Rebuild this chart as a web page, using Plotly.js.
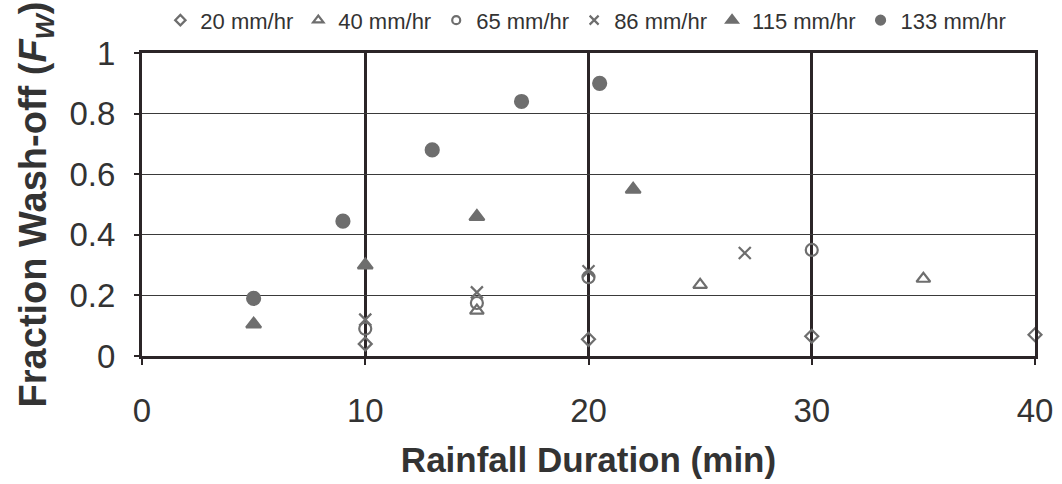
<!DOCTYPE html>
<html><head><meta charset="utf-8">
<script src="https://cdn.plot.ly/plotly-3.0.1.min.js"></script>
<style>html,body{margin:0;padding:0;background:#fff}#chart{width:1062px;height:484px}</style>
</head><body><div id="chart"></div>
<script>
// Series data (Rainfall duration in min, fraction wash-off)
const seriesNames = ["20 mm/hr", "40 mm/hr", "65 mm/hr", "86 mm/hr", "115 mm/hr", "133 mm/hr"];
const x20 = [10, 20, 30, 40];
const y20 = [0.04, 0.055, 0.065, 0.07];
const x40 = [15, 25, 35];
const y40 = [0.15, 0.235, 0.255];
const x65 = [10, 15, 20, 30];
const y65 = [0.09, 0.175, 0.26, 0.35];
const x86 = [10, 15, 20, 27];
const y86 = [0.12, 0.21, 0.28, 0.34];
const x115 = [5, 10, 15, 22];
const y115 = [0.105, 0.30, 0.46, 0.55];
const x133 = [5, 9, 13, 17, 20.5];
const y133 = [0.19, 0.445, 0.68, 0.84, 0.90];
const xTicks = [0, 10, 20, 30, 40];
const yTicks = [0, 0.2, 0.4, 0.6, 0.8, 1];

const gray = '#6e6e6e';
const dark = '#2b2527';
const xs = [x20, x40, x65, x86, x115, x133];
const ys = [y20, y40, y65, y86, y115, y133];
const symbols = ['diamond-open', 'triangle-up-open', 'circle-open', 'x-thin-open', 'triangle-up', 'circle'];
const sizes = [10, 12, 12, 12, 13, 13];
const legendSizes = [8, 9, 8, 9, 10, 9];

const traces = [];
for (let i = 0; i < seriesNames.length; i++) {
  traces.push({
    type: 'scatter', mode: 'markers', x: xs[i], y: ys[i], name: seriesNames[i],
    showlegend: false, cliponaxis: false,
    marker: { symbol: symbols[i], size: sizes[i], color: gray, line: { color: gray, width: 2.2 } }
  });
}
for (let i = 0; i < seriesNames.length; i++) {
  traces.push({
    type: 'scatter', mode: 'markers', x: [null], y: [null], name: seriesNames[i],
    showlegend: true,
    marker: { symbol: symbols[i], size: legendSizes[i], color: gray, line: { color: gray, width: 2.2 } }
  });
}

const layout = {
  width: 1062, height: 484,
  margin: { l: 142, r: 27, t: 53, b: 128 },
  paper_bgcolor: '#fff', plot_bgcolor: '#fff',
  font: { family: 'Liberation Sans, Arial, sans-serif', color: '#333' },
  showlegend: true,
  legend: {
    orientation: 'h', xref: 'container', yref: 'container',
    x: 0.151, y: 0.958, xanchor: 'left', yanchor: 'middle',
    font: { size: 22, color: '#333' },
    itemwidth: 30, bgcolor: 'rgba(0,0,0,0)', tracegroupgap: 0
  },
  xaxis: {
    range: [0, 40], tickvals: xTicks, ticktext: xTicks.map(String),
    showgrid: true, gridcolor: dark, gridwidth: 3, zeroline: false,
    showline: true, mirror: true, linecolor: dark, linewidth: 3,
    ticks: 'outside', ticklen: 6, tickwidth: 2, tickcolor: dark,
    tickfont: { size: 33, color: '#333' }, ticklabelstandoff: 17,
    title: { text: '<b>Rainfall Duration (min)</b>', font: { size: 35, color: '#333' }, standoff: 20 }
  },
  yaxis: {
    range: [0, 1], tickvals: yTicks, ticktext: ['0', '0.2', '0.4', '0.6', '0.8', '1'],
    showgrid: true, gridcolor: '#3a3a3a', gridwidth: 1, zeroline: false,
    showline: true, mirror: true, linecolor: dark, linewidth: 3,
    ticks: 'outside', ticklen: 5, tickwidth: 2, tickcolor: dark,
    tickfont: { size: 33, color: '#333' }, ticklabelstandoff: 12,
    title: { text: '<b>Fraction Wash-off (<i>F</i><sub><i>W</i></sub>)</b>', font: { size: 38, color: '#333' }, standoff: 12 }
  }
};

Plotly.newPlot('chart', traces, layout, { displayModeBar: false, staticPlot: true });
</script>
</body></html>
